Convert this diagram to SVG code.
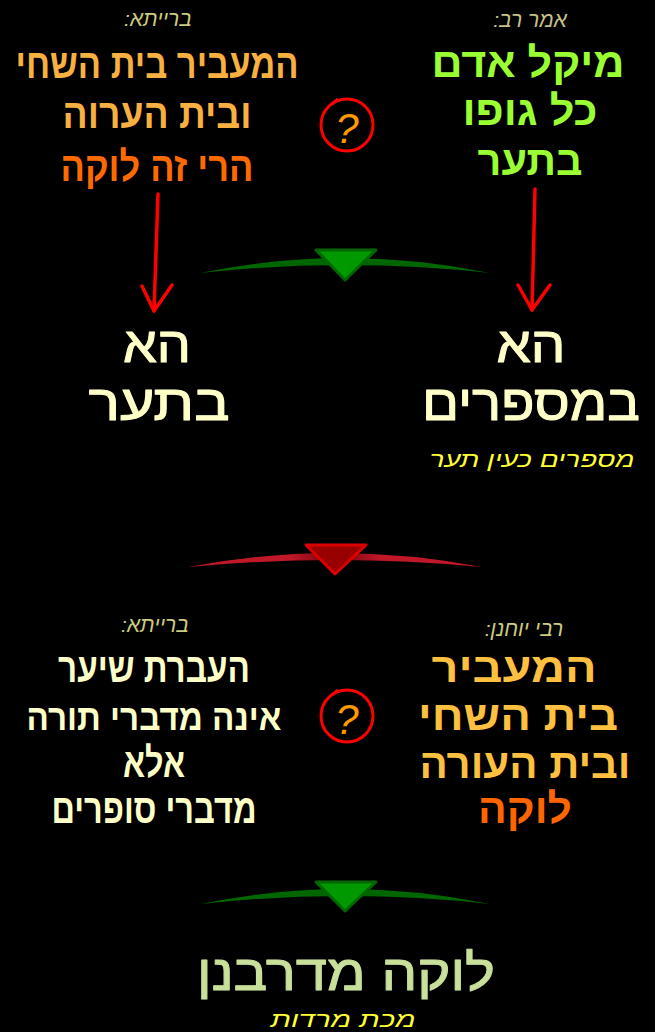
<svg xmlns="http://www.w3.org/2000/svg" width="655" height="1032" viewBox="0 0 655 1032">
<style>
text{font-family:"Liberation Sans","DejaVu Sans",sans-serif;direction:rtl;text-anchor:middle}
.lab{font-style:italic;font-size:21px}
.b{font-weight:bold;font-size:41px}
.m{font-size:50px;stroke-width:1;stroke-linejoin:round}
.s{font-style:italic;font-size:22px;fill:#ffff33}
.q{font-style:italic;font-size:42px;fill:#ff9900}
.ring{fill:none;stroke:#ff0000;stroke-width:3}
.arr{fill:none;stroke:#ff0000;stroke-width:3.5;stroke-linecap:round;stroke-linejoin:round}
</style>
<defs>
<linearGradient id="rg" x1="0" x2="1" y1="0" y2="0">
<stop offset="0" stop-color="#c01828"/>
<stop offset="0.35" stop-color="#c01828"/>
<stop offset="0.5" stop-color="#6a0008"/>
<stop offset="0.65" stop-color="#c01828"/>
<stop offset="1" stop-color="#c01828"/>
</linearGradient>
</defs>
<rect width="655" height="1032" fill="#000"/>

<g id="baraita1">
<text class="lab" x="158" y="26" fill="#cccc80">ברייתא:</text>
<text class="b" x="157" y="78" fill="#f8b040" textLength="283" lengthAdjust="spacingAndGlyphs">המעביר בית השחי</text>
<text class="b" x="157" y="128" fill="#f8b040" textLength="189" lengthAdjust="spacingAndGlyphs">ובית הערוה</text>
<text class="b" x="157" y="181" fill="#ff6a00" textLength="193" lengthAdjust="spacingAndGlyphs">הרי זה לוקה</text>
</g>

<g id="rav">
<text class="lab" x="530" y="27" fill="#c8c08a">אמר רב:</text>
<text class="b" x="528" y="77" fill="#99ff33" textLength="193" lengthAdjust="spacingAndGlyphs">מיקל אדם</text>
<text class="b" x="530" y="125" fill="#99ff33" textLength="135" lengthAdjust="spacingAndGlyphs">כל גופו</text>
<text class="b" x="530" y="175" fill="#99ff33" textLength="105" lengthAdjust="spacingAndGlyphs">בתער</text>
</g>

<g id="question1">
<circle class="ring" cx="347" cy="125" r="26"/>
<path class="ring" d="M332,104 L338,99"/>
<text class="q" x="347" y="143">?</text>
</g>

<g id="ha-taar">
<text class="m" x="157" y="362" fill="#ffffc8" stroke="#ffffc8" textLength="68" lengthAdjust="spacingAndGlyphs">הא</text>
<text class="m" x="159" y="420" fill="#ffffc8" stroke="#ffffc8" textLength="141" lengthAdjust="spacingAndGlyphs">בתער</text>
</g>

<g id="ha-misparayim">
<text class="m" x="531" y="362" fill="#ffffc8" stroke="#ffffc8" textLength="69" lengthAdjust="spacingAndGlyphs">הא</text>
<text class="m" x="531" y="420" fill="#ffffc8" stroke="#ffffc8" textLength="218" lengthAdjust="spacingAndGlyphs">במספרים</text>
<text class="s" x="532" y="467" textLength="205" lengthAdjust="spacingAndGlyphs">מספרים כעין תער</text>
</g>

<g id="baraita2">
<text class="lab" x="155" y="632" fill="#cccc80">ברייתא:</text>
<text class="b" x="154" y="682" fill="#ffffc8" textLength="192" lengthAdjust="spacingAndGlyphs">העברת שיער</text>
<text class="b" x="154" y="730" fill="#ffffc8" style="font-size:37px" textLength="255" lengthAdjust="spacingAndGlyphs">אינה מדברי תורה</text>
<text class="b" x="154" y="777" fill="#ffffc8" textLength="62" lengthAdjust="spacingAndGlyphs">אלא</text>
<text class="b" x="154" y="823" fill="#ffffc8" textLength="205" lengthAdjust="spacingAndGlyphs">מדברי סופרים</text>
</g>

<g id="rabbi-yochanan">
<text class="lab" x="524" y="636" fill="#cccc80">רבי יוחנן:</text>
<text class="b" x="514" y="682" fill="#ffc040" textLength="165" lengthAdjust="spacingAndGlyphs">המעביר</text>
<text class="b" x="518" y="730" fill="#ffc040" textLength="200" lengthAdjust="spacingAndGlyphs">בית השחי</text>
<text class="b" x="525" y="778" fill="#ffc040" textLength="211" lengthAdjust="spacingAndGlyphs">ובית העורה</text>
<text class="b" x="525" y="823" fill="#ff6600" textLength="94" lengthAdjust="spacingAndGlyphs">לוקה</text>
</g>

<g id="question2">
<circle class="ring" cx="347" cy="716" r="26"/>
<path class="ring" d="M332,695 L338,690"/>
<text class="q" x="347" y="734">?</text>
</g>

<g id="conclusion">
<text class="m" x="346" y="990" fill="#c8e09a" stroke="#c8e09a" textLength="298" lengthAdjust="spacingAndGlyphs">לוקה מדרבנן</text>
<text class="s" x="343" y="1027" textLength="145" lengthAdjust="spacingAndGlyphs">מכת מרדות</text>
</g>

<g id="connectors">
<path class="arr" d="M158,194 L154,311"/>
<path class="arr" d="M142,286 L154,311 L172,285"/>
<path class="arr" d="M535,189 L532,310"/>
<path class="arr" d="M518,285 L532,310 L550,285"/>
<path d="M200,273 Q345,243 490,273 Q345,257 200,273 Z" fill="#006600"/>
<polygon points="316,250 376,250 345,280" fill="#009900" stroke="#006600" stroke-width="3" stroke-linejoin="round"/>
<path d="M188,567 Q335,539 482,567 Q335,553 188,567 Z" fill="url(#rg)"/>
<polygon points="306,545 366,545 335,574" fill="#990000" stroke="#dd0000" stroke-width="3" stroke-linejoin="round"/>
<path d="M201,904 Q345,874 490,904 Q345,888 201,904 Z" fill="#006600"/>
<polygon points="316,882 376,882 345,911" fill="#009900" stroke="#006600" stroke-width="3" stroke-linejoin="round"/>
</g>
</svg>
